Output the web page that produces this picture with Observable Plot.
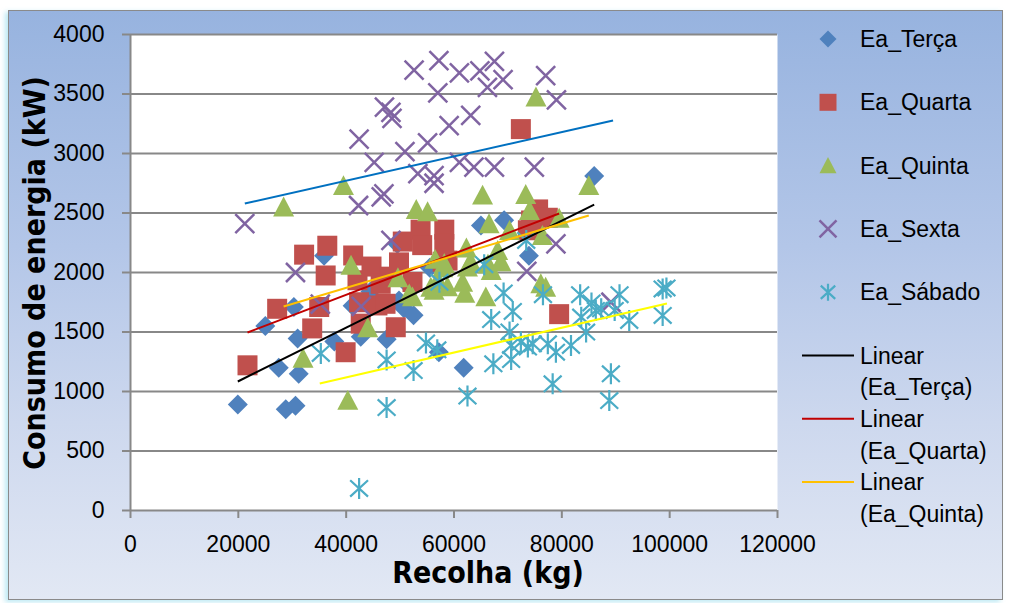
<!DOCTYPE html>
<html>
<head>
<meta charset="utf-8">
<script src="https://cdn.jsdelivr.net/npm/d3@7"></script>
<script src="https://cdn.jsdelivr.net/npm/@observablehq/plot@0.6"></script>
<style>
  html, body { margin: 0; padding: 0; background: #fff; }
  #wrap { position: relative; width: 1010px; height: 603px; overflow: hidden; }
  #panel {
    position: absolute; left: 8px; top: 10px; width: 995px; height: 590px;
    border: 1.5px solid #8a8a8a; box-sizing: border-box;
    background: linear-gradient(to bottom, #97b3df 0%, #b3c6e8 40%, #cdd8ee 70%, #e2e8f4 100%);
    box-shadow: -3px 2px 5px rgba(60, 190, 220, 0.35);
  }
  #chart { position: absolute; left: 0; top: 0; }
</style>
</head>
<body>
<div id="wrap"><div id="panel"></div><div id="chart"></div></div>
<script>
// Axis ticks
const xTicks = [0, 20000, 40000, 60000, 80000, 100000, 120000];
const yTicks = [0, 500, 1000, 1500, 2000, 2500, 3000, 3500, 4000];

// Series: [Recolha (kg), Consumo (kW)]
const eaTerca = [
  [19900, 890], [25000, 1550], [27500, 1200], [28800, 850], [30600, 880], [31200, 1150],
  [31000, 1445], [30300, 1710], [35900, 2140], [37800, 1420], [41200, 1720], [42700, 1460],
  [44600, 1765], [44500, 1840], [47500, 1440], [49800, 1765], [50700, 1700], [51800, 1880],
  [49500, 2240], [57200, 1330], [61800, 1200], [65000, 2395], [69300, 2440], [73900, 2140],
  [86000, 2810], [55500, 2040], [52500, 1640]
];
const eaQuarta = [
  [21700, 1220], [27200, 1695], [32200, 2150], [33700, 1530], [35000, 1710], [36500, 2225],
  [36200, 1975], [39900, 1330], [41300, 2143], [42100, 1935], [42400, 1750], [42700, 1570],
  [44700, 2050], [45800, 1723], [46400, 1905], [47300, 1737], [48000, 1965], [49200, 1540],
  [49800, 2085], [50500, 2260], [52300, 1920], [53800, 2360], [54100, 2230], [58200, 2360],
  [58200, 2240], [57900, 2090], [58800, 2100], [72400, 3205], [73700, 2355], [74300, 2437],
  [75600, 2530], [77400, 2460], [79500, 1650]
];
const eaQuinta = [
  [28400, 2550], [32000, 1280], [39500, 2730], [40300, 925], [40900, 2060], [44000, 1535],
  [49600, 1955], [51700, 1820], [52300, 1795], [53000, 2530], [55100, 2510], [55700, 1876],
  [56300, 1850], [56500, 2110], [57000, 1935], [57900, 2040], [58200, 2075], [58800, 1880],
  [61600, 1918], [62000, 1825], [62300, 2205], [62500, 2045], [63100, 2090], [65300, 2650],
  [65900, 1795], [66300, 2070], [66500, 2410], [66900, 2017], [68100, 2185], [68700, 2090],
  [70300, 2353], [73300, 2655], [74000, 2521], [75200, 3475], [76400, 2311], [76100, 1905],
  [77000, 1876], [79500, 2455], [85000, 2730]
];
const eaSexta = [
  [21200, 2410], [30600, 2000], [35200, 1735], [42800, 1715], [42400, 3120], [42300, 2563],
  [45200, 2925], [46500, 2635], [47000, 2660], [47100, 3390], [48300, 3345], [48500, 3295],
  [48300, 2270], [50900, 3015], [52600, 3700], [53300, 2830], [55100, 3090], [56300, 2815],
  [56300, 2750], [57000, 3510], [57200, 3780], [59100, 3235], [61000, 2925], [61000, 3678],
  [63100, 3320], [63700, 2885], [64800, 3695], [66200, 3555], [67500, 3775], [67500, 2885],
  [69100, 3620], [73500, 2010], [74900, 2885], [77000, 3655], [79000, 3450], [78900, 2240],
  [89100, 1750]
];
const eaSabado = [
  [35300, 1320], [42400, 185], [47500, 865], [47500, 1265], [52500, 1176], [54800, 1408],
  [56900, 1350], [57300, 1918], [62500, 962], [65600, 2066], [66900, 1604], [67300, 1233],
  [69200, 1828], [70300, 1500], [70600, 1387], [70600, 1268], [70900, 1673], [72400, 1415],
  [73400, 2269], [73700, 1373], [74600, 1401], [76500, 1814], [77400, 1401], [78300, 1065],
  [78900, 1330], [81700, 1387], [83400, 1814], [83600, 1625], [84500, 1499], [85500, 1744],
  [86300, 1681], [87300, 1695], [88800, 924], [89100, 1149], [89800, 1681], [90700, 1814],
  [92500, 1597], [98700, 1639], [98700, 1862], [99400, 1870]
];

// Linear trend lines: start and end of each fitted line
const trendNames = ["Linear (Ea_Terça)", "Linear (Ea_Quarta)", "Linear (Ea_Quinta)", "Linear (Ea_Sexta)", "Linear (Ea_Sábado)"];
const trendX1 = [19900, 21700, 28400, 21200, 35100];
const trendY1 = [1084, 1496, 1714, 2580, 1067];
const trendX2 = [86000, 79500, 85000, 89500, 99500];
const trendY2 = [2571, 2496, 2479, 3277, 1740];
const trendColors = ["#000000", "#c00000", "#ffc000", "#0070c0", "#ffff00"];

// Marker shapes sized so that r equals the half-width in pixels
const half = size => Math.sqrt(size / Math.PI);
const symDiamond = { draw(c, s) { const h = half(s); c.moveTo(0, -h); c.lineTo(h, 0); c.lineTo(0, h); c.lineTo(-h, 0); c.closePath(); } };
const symSquare = { draw(c, s) { const h = half(s); c.moveTo(-h, -h); c.lineTo(h, -h); c.lineTo(h, h); c.lineTo(-h, h); c.closePath(); } };
const symTriangle = { draw(c, s) { const h = half(s); c.moveTo(0, -h); c.lineTo(h, 0.9 * h); c.lineTo(-h, 0.9 * h); c.closePath(); } };
const symTimes = { draw(c, s) { const h = half(s); c.moveTo(-h, -h); c.lineTo(h, h); c.moveTo(-h, h); c.lineTo(h, -h); } };
const symStar = { draw(c, s) { const h = half(s); c.moveTo(0, -h); c.lineTo(0, h); c.moveTo(-0.85 * h, -0.78 * h); c.lineTo(0.85 * h, 0.78 * h); c.moveTo(-0.85 * h, 0.78 * h); c.lineTo(0.85 * h, -0.78 * h); } };

const seriesNames = ["Ea_Terça", "Ea_Quarta", "Ea_Quinta", "Ea_Sexta", "Ea_Sábado"];
const seriesData = [eaTerca, eaQuarta, eaQuinta, eaSexta, eaSabado];
const seriesColors = ["#4f81bd", "#c0504d", "#9bbb59", "#8064a2", "#4bacc6"];
const seriesSymbols = [symDiamond, symSquare, symTriangle, symTimes, symStar];
const seriesFilled = [true, true, true, false, false];
const seriesR = [10, 10, 10.5, 9.5, 10.5];
const seriesStroke = [0, 0, 0, 2.5, 2.2];

const dotMarks = seriesData.map((data, i) => Plot.dot(data, {
  x: d => d[0], y: d => d[1],
  symbol: seriesSymbols[i], r: seriesR[i],
  fill: seriesFilled[i] ? seriesColors[i] : "none",
  stroke: seriesFilled[i] ? "none" : seriesColors[i],
  strokeWidth: seriesStroke[i]
}));

const trendMarks = trendNames.map((name, i) => Plot.link([name], {
  x1: () => trendX1[i], y1: () => trendY1[i],
  x2: () => trendX2[i], y2: () => trendY2[i],
  stroke: trendColors[i], strokeWidth: 2
}));

const grid = "#888888";
const chart = Plot.plot({
  width: 1010, height: 603,
  marginLeft: 130, marginRight: 233, marginTop: 34, marginBottom: 93,
  x: { domain: [0, 120000] },
  y: { domain: [0, 4000] },
  style: { background: "transparent", fontFamily: "'Liberation Sans', Arial, sans-serif", fontSize: "23px", color: "#000", overflow: "visible" },
  marks: [
    Plot.frame({ fill: "white", stroke: "none" }),
    Plot.ruleY(yTicks, { stroke: grid, strokeWidth: 2 }),
    Plot.ruleX([0], { stroke: grid, strokeWidth: 2 }),
    Plot.axisY({ ticks: yTicks, tickSize: 8, tickPadding: 18, tickFormat: d => String(d), stroke: grid, strokeWidth: 2, label: null }),
    Plot.axisX({ ticks: xTicks, tickSize: 8, tickPadding: 17, tickFormat: d => String(d), stroke: grid, strokeWidth: 2, label: null }),
    ...dotMarks,
    ...trendMarks
  ]
});
document.getElementById("chart").appendChild(chart);

const svg = d3.select(chart);

// Axis titles
const titleFont = "'DejaVu Sans Condensed', 'DejaVu Sans', sans-serif";
svg.append("text")
  .attr("transform", "translate(45,273) rotate(-90)")
  .attr("text-anchor", "middle")
  .attr("font-family", titleFont).attr("font-weight", "bold").attr("font-size", 30)
  .attr("fill", "#000")
  .text("Consumo de energia (kW)");
svg.append("text")
  .attr("x", 488).attr("y", 583)
  .attr("text-anchor", "middle")
  .attr("font-family", titleFont).attr("font-weight", "bold").attr("font-size", 30)
  .attr("fill", "#000")
  .text("Recolha (kg)");

// Legend
const legend = svg.append("g")
  .attr("font-family", "'Liberation Sans', Arial, sans-serif").attr("font-size", 23)
  .attr("text-anchor", "start");
const legendTop = 39, legendStep = 63.3, symX = 828, textX = 860;
seriesNames.forEach((name, i) => {
  const y = legendTop + i * legendStep;
  legend.append("path")
    .attr("transform", `translate(${symX},${y})`)
    .attr("d", d3.symbol(seriesSymbols[i], Math.PI * 8.5 * 8.5)())
    .attr("fill", seriesFilled[i] ? seriesColors[i] : "none")
    .attr("stroke", seriesFilled[i] ? "none" : seriesColors[i])
    .attr("stroke-width", seriesStroke[i] || null);
  legend.append("text").attr("x", textX).attr("y", y).attr("dy", "0.35em").attr("fill", "#000").text(name);
});
// Only the first three trend lines fit in the legend box
for (let i = 0; i < 3; i++) {
  const y = legendTop + (5 + i) * legendStep;
  legend.append("line").attr("x1", 802).attr("x2", 854).attr("y1", y).attr("y2", y)
    .attr("stroke", trendColors[i]).attr("stroke-width", 2);
  const t = legend.append("text").attr("x", textX).attr("y", y).attr("dy", "0.35em").attr("fill", "#000");
  const parts = trendNames[i].split(" ");
  t.append("tspan").attr("x", textX).text(parts[0]);
  t.append("tspan").attr("x", textX).attr("dy", "1.38em").text(parts[1]);
}
</script>
</body>
</html>
